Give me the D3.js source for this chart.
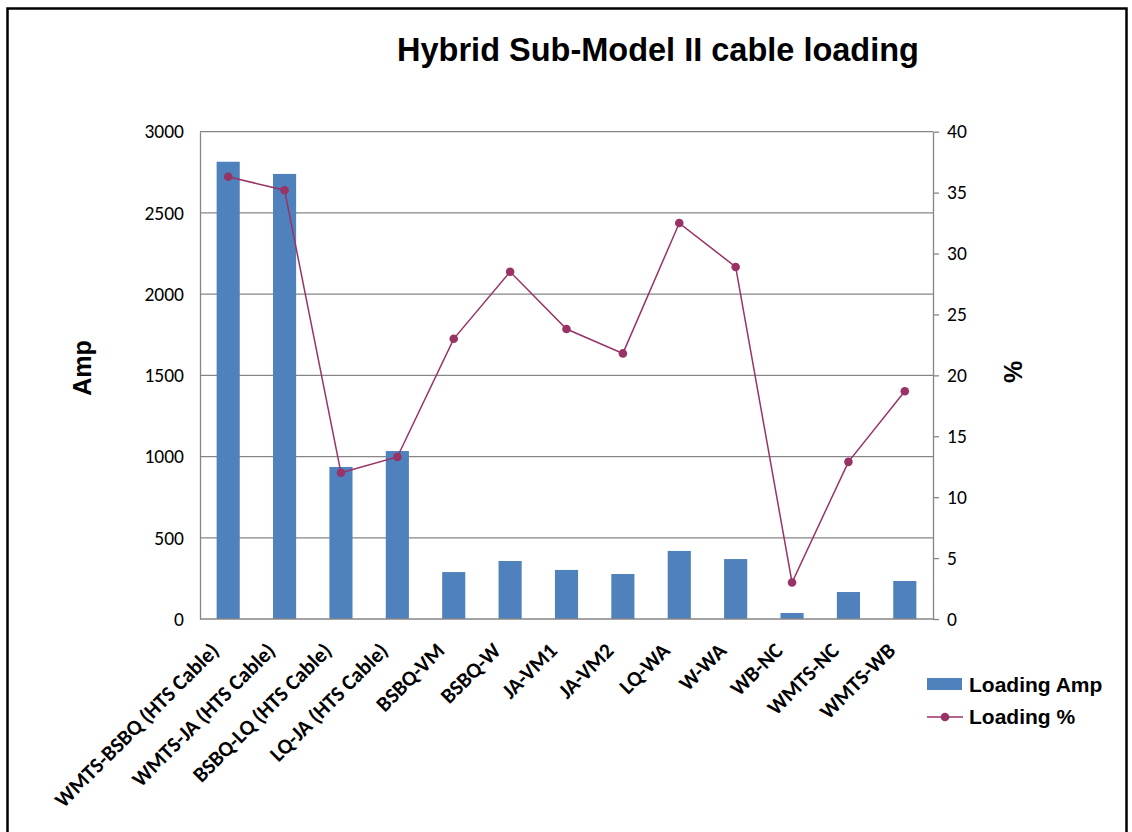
<!DOCTYPE html>
<html>
<head>
<meta charset="utf-8">
<script src="https://cdn.jsdelivr.net/npm/d3@7"></script>
<style>
  html, body { margin: 0; padding: 0; background: #fff; }
  svg { display: block; }
</style>
</head>
<body>
<script>
// Cable loading data: current (A) and loading percentage per cable section
const categories = [
  "WMTS-BSBQ (HTS Cable)", "WMTS-JA (HTS Cable)", "BSBQ-LQ (HTS Cable)", "LQ-JA (HTS Cable)",
  "BSBQ-VM", "BSBQ-W", "JA-VM1", "JA-VM2", "LQ-WA", "W-WA", "WB-NC", "WMTS-NC", "WMTS-WB"
];
const loadingAmp = [2815, 2740, 936, 1034, 289, 357, 302, 277, 419, 369, 37, 166, 234];
const loadingPct = [36.3, 35.2, 12.0, 13.3, 23.0, 28.5, 23.8, 21.8, 32.5, 28.9, 3.0, 12.9, 18.7];
const ampTicks = [0, 500, 1000, 1500, 2000, 2500, 3000];
const pctTicks = [0, 5, 10, 15, 20, 25, 30, 35, 40];

const W = 1132, H = 832;
const plot = { left: 200, right: 933, top: 131.7, bottom: 619 };
const barColor = "#4F81BD";
const lineColor = "#993366";
const gridColor = "#868686";
const tickFont = "Carlito, Calibri, 'Open Sans', sans-serif";
const boldFont = "'Liberation Sans', Arial, sans-serif";

const svg = d3.select("body").append("svg").attr("width", W).attr("height", H);

// Outer chart frame (open at the bottom edge)
svg.append("path")
  .attr("d", `M7.5,${H + 5} V8.5 H1126.5 V${H + 5}`)
  .attr("fill", "none").attr("stroke", "#000").attr("stroke-width", 2.5);

const x = d3.scaleBand().domain(categories).range([plot.left, plot.right]).paddingInner(0.59).paddingOuter(0.295);
const yAmp = d3.scaleLinear().domain([0, 3000]).range([plot.bottom, plot.top]);
const yPct = d3.scaleLinear().domain([0, 40]).range([plot.bottom, plot.top]);

// Horizontal gridlines
svg.append("g")
  .selectAll("line").data(ampTicks.filter(t => t > 0)).join("line")
  .attr("x1", plot.left).attr("x2", plot.right)
  .attr("y1", d => yAmp(d)).attr("y2", d => yAmp(d))
  .attr("stroke", gridColor).attr("stroke-width", 1.3);

// Left axis (Amp)
const leftAxis = svg.append("g").attr("transform", `translate(${plot.left},0)`)
  .call(d3.axisLeft(yAmp).tickValues(ampTicks).tickSize(0).tickPadding(16).tickFormat(d3.format("d")));
leftAxis.select(".domain").attr("stroke", gridColor).attr("stroke-width", 1.3);
leftAxis.selectAll("text").attr("font-family", tickFont).attr("font-size", 19.5).attr("fill", "#000");

// Right axis (%)
const rightAxis = svg.append("g").attr("transform", `translate(${plot.right},0)`)
  .call(d3.axisRight(yPct).tickValues(pctTicks).tickSize(6).tickSizeOuter(0).tickPadding(8).tickFormat(d3.format("d")));
rightAxis.select(".domain").attr("stroke", gridColor).attr("stroke-width", 1.3);
rightAxis.selectAll(".tick line").attr("stroke", gridColor).attr("stroke-width", 1.3);
rightAxis.selectAll("text").attr("font-family", tickFont).attr("font-size", 19.5).attr("fill", "#000");

// Bars
svg.append("g").selectAll("rect").data(categories).join("rect")
  .attr("x", d => x(d))
  .attr("width", x.bandwidth())
  .attr("y", (d, i) => yAmp(loadingAmp[i]))
  .attr("height", (d, i) => yAmp(0) - yAmp(loadingAmp[i]))
  .attr("fill", barColor);

// Bottom axis line
svg.append("line")
  .attr("x1", plot.left).attr("x2", plot.right)
  .attr("y1", plot.bottom).attr("y2", plot.bottom)
  .attr("stroke", gridColor).attr("stroke-width", 1.3);

// Category labels, rotated
svg.append("g").selectAll("text").data(categories).join("text")
  .attr("transform", d => `translate(${x(d) + x.bandwidth() / 2 - 8},${plot.bottom + 33}) rotate(-45)`)
  .attr("text-anchor", "end")
  .attr("font-family", tickFont).attr("font-weight", "bold").attr("font-size", 21.5)
  .attr("fill", "#000")
  .text(d => d);

// Loading % line with markers
const cx = d => x(d) + x.bandwidth() / 2;
const line = d3.line().x(d => cx(d.c)).y(d => yPct(d.v));
const pts = categories.map((c, i) => ({ c, v: loadingPct[i] }));
svg.append("path").datum(pts)
  .attr("d", line).attr("fill", "none")
  .attr("stroke", lineColor).attr("stroke-width", 1.5);
svg.append("g").selectAll("circle").data(pts).join("circle")
  .attr("cx", d => cx(d.c)).attr("cy", d => yPct(d.v))
  .attr("r", 4.3).attr("fill", lineColor);

// Title
svg.append("text")
  .attr("x", 658).attr("y", 61)
  .attr("text-anchor", "middle")
  .attr("font-family", boldFont).attr("font-weight", "bold").attr("font-size", 32.5)
  .text("Hybrid Sub-Model II cable loading");

// Axis titles
svg.append("text")
  .attr("transform", "translate(91,368) rotate(-90)")
  .attr("text-anchor", "middle")
  .attr("font-family", boldFont).attr("font-weight", "bold").attr("font-size", 25)
  .text("Amp");
svg.append("text")
  .attr("transform", "translate(1022,372) rotate(-90)")
  .attr("text-anchor", "middle")
  .attr("font-family", boldFont).attr("font-weight", "bold").attr("font-size", 25)
  .text("%");

// Legend
const lg = svg.append("g").attr("font-family", boldFont).attr("font-weight", "bold").attr("font-size", 21);
lg.append("rect").attr("x", 927).attr("y", 678).attr("width", 35).attr("height", 12).attr("fill", barColor);
lg.append("text").attr("x", 969).attr("y", 692).text("Loading Amp");
lg.append("line").attr("x1", 927).attr("x2", 963).attr("y1", 717).attr("y2", 717)
  .attr("stroke", lineColor).attr("stroke-width", 1.5);
lg.append("circle").attr("cx", 945).attr("cy", 717).attr("r", 4.3).attr("fill", lineColor);
lg.append("text").attr("x", 969).attr("y", 724).text("Loading %");
</script>
</body>
</html>
